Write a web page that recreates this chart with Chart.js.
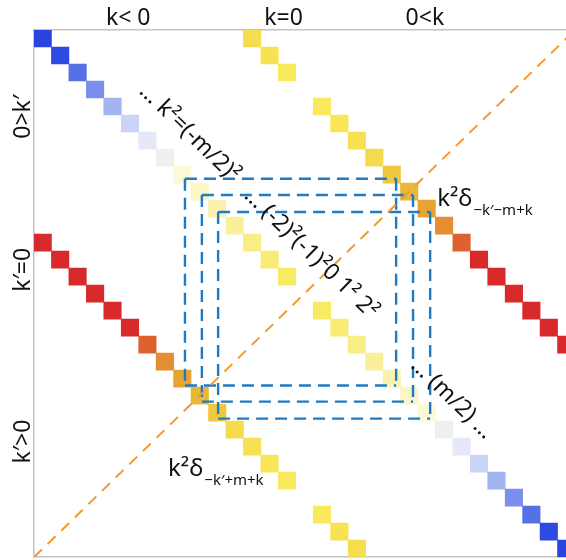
<!DOCTYPE html>
<html>
<head>
<meta charset="utf-8">
<script src="https://cdn.jsdelivr.net/npm/chart.js@4/dist/chart.umd.min.js"></script>
<style>
  html, body { margin: 0; padding: 0; background: #fff; overflow: hidden; }
  canvas { display: block; }
</style>
</head>
<body>
<canvas id="chart" width="576" height="560"></canvas>
<script>
// 31 x 31 grid: column = k (left to right), row = k' (top to bottom)
const gridSize = 31;

// Main diagonal k' = k, one value per column (null = empty cell)
const mainDiagonal = [-1.0, -0.9, -0.75, -0.6, -0.45, -0.3, -0.15, 0.0, 0.1, 0.15, 0.2, 0.25, 0.3, 0.34, 0.38, null,
                      0.38, 0.34, 0.3, 0.25, 0.2, 0.15, 0.1, 0.0, -0.15, -0.3, -0.45, -0.6, -0.75, -0.9, -1.0];

// Upper shifted diagonal: column = upperStart + j, row = j
const upperStart = 12;
const upperDiagonal = [0.47, 0.44, 0.4, null, 0.4, 0.42, 0.45, 0.48, 0.55, 0.6, 0.66, 0.74, 0.85, 1, 1, 1, 1, 1, 1];

// Lower shifted diagonal: column = j, row = lowerStart + j
const lowerStart = 12;
const lowerDiagonal = [1, 1, 1, 1, 1, 1, 0.85, 0.74, 0.66, 0.6, 0.55, 0.48, 0.45, 0.42, 0.4, null, 0.4, 0.44, 0.47];

// Axis tick labels (positions in grid units)
const topTickLabels = ['k< 0', 'k=0', '0<k'];
const topTickValues = [5.4, 14.3, 22.4];
const leftTickLabels = ['0>k\u2032', 'k\u2032=0', 'k\u2032>0'];
const leftTickValues = [5.1, 14.1, 24.2];

// Dashed boxes [left, top, right, bottom] in grid units
const boxes = [
  [8.65, 8.75, 20.75, 20.9],
  [9.62, 9.7, 21.72, 21.85],
  [10.55, 10.7, 22.7, 22.85]
];

// Anti-diagonal reference line
const antiDiagonal = [{x: 0, y: gridSize}, {x: gridSize, y: 0}];

// Annotations along the diagonals
const diagonalNotes = [
  {text: '\u2026 k\u00b2=(-m/2)\u00b2', col: 8.9, row: 6.05},
  {text: '\u2026 (-2)\u00b2(-1)\u00b20 1\u00b2 2\u00b2', col: 15.87, row: 13.15},
  {text: '\u2026 (m/2) \u2026', col: 23.95, row: 21.67}
];
const deltaNotes = [
  {main: 'k\u00b2\u03b4', sub: '\u2212k\u2032\u2212m+k', col: 23.1, row: 10.33},
  {main: 'k\u00b2\u03b4', sub: '\u2212k\u2032+m+k', col: 7.68, row: 26.25}
];

// Colour scale: blue (negative) -> grey-white -> yellow -> orange -> red
const colorStops = [
  [-1.00, '#2a44e0'], [-0.90, '#2e4ae2'], [-0.75, '#5670e6'], [-0.60, '#7a90ec'],
  [-0.45, '#a2b4f2'], [-0.30, '#cad4f6'], [-0.15, '#e4e8f8'], [0.00, '#eef0ee'],
  [0.10, '#fdf8d8'], [0.20, '#fbf2b0'], [0.30, '#f9ee86'], [0.40, '#f8ea5c'],
  [0.45, '#f7e052'], [0.50, '#f4d64a'], [0.55, '#efc840'], [0.60, '#eab838'],
  [0.66, '#e8a432'], [0.74, '#e68c32'], [0.85, '#de6230'], [1.00, '#d82a2a']
];
function hexToRgb(h) { return [1, 3, 5].map(i => parseInt(h.substr(i, 2), 16)); }
function colorFor(v) {
  if (v <= colorStops[0][0]) return colorStops[0][1];
  for (let i = 1; i < colorStops.length; i++) {
    const [v1, c1] = colorStops[i];
    if (v <= v1) {
      const [v0, c0] = colorStops[i - 1];
      const t = (v - v0) / (v1 - v0);
      const a = hexToRgb(c0), b = hexToRgb(c1);
      const m = a.map((x, k) => Math.round(x + (b[k] - x) * t));
      return `rgb(${m[0]},${m[1]},${m[2]})`;
    }
  }
  return colorStops[colorStops.length - 1][1];
}

// Turn a diagonal into floating bars (one cell per bar)
function cells(values, colStart, rowStart) {
  const data = [], colors = [];
  values.forEach((v, j) => {
    if (v === null) return;
    const c = colStart + j, r = rowStart + j;
    data.push({x: c + 0.5, y: [r, r + 1]});
    colors.push(colorFor(v));
  });
  return {data, colors};
}
function boxPath([l, t, r, b]) {
  return [
    {x: l, y: t}, {x: r, y: t}, {x: r, y: null},
    {x: r, y: t}, {x: r, y: b}, {x: r, y: null},
    {x: l, y: b}, {x: r, y: b}, {x: l, y: null},
    {x: l, y: t}, {x: l, y: b}
  ];
}

const FONT = '"Noto Sans", "Open Sans", sans-serif';
const mainCells = cells(mainDiagonal, 0, 0);
const upperCells = cells(upperDiagonal, upperStart, 0);
const lowerCells = cells(lowerDiagonal, 0, lowerStart);

const cellDataset = (c) => ({
  type: 'bar', data: c.data, backgroundColor: c.colors, borderWidth: 0,
  grouped: false, barPercentage: 1, categoryPercentage: 1, order: 3,
  xAxisID: 'x', yAxisID: 'y'
});

const datasets = [
  cellDataset(mainCells), cellDataset(upperCells), cellDataset(lowerCells),
  ...boxes.map(bx => ({
    type: 'line', data: boxPath(bx), borderColor: '#1f7bc4', borderWidth: 2.4,
    borderDash: [12, 7], borderCapStyle: 'butt', pointRadius: 0, fill: false,
    spanGaps: false, tension: 0, order: 2, xAxisID: 'x', yAxisID: 'y'
  })),
  {
    type: 'line', data: antiDiagonal, borderColor: '#f39a2e', borderWidth: 2,
    borderDash: [11, 8], pointRadius: 0, fill: false, tension: 0, order: 1,
    xAxisID: 'x', yAxisID: 'y'
  }
];

const notesPlugin = {
  id: 'notes',
  afterDatasetsDraw(chart) {
    const {ctx, scales: {x, y}} = chart;
    const angle = Math.atan2(y.getPixelForValue(1) - y.getPixelForValue(0),
                             x.getPixelForValue(1) - x.getPixelForValue(0));
    ctx.save();
    ctx.fillStyle = '#111';
    diagonalNotes.forEach(n => {
      ctx.save();
      ctx.translate(x.getPixelForValue(n.col), y.getPixelForValue(n.row));
      ctx.rotate(angle);
      ctx.font = `23px ${FONT}`;
      ctx.textAlign = 'center';
      ctx.textBaseline = 'middle';
      ctx.fillText(n.text, 0, 0);
      ctx.restore();
    });
    deltaNotes.forEach(n => {
      const px = x.getPixelForValue(n.col), py = y.getPixelForValue(n.row);
      ctx.textAlign = 'left';
      ctx.textBaseline = 'alphabetic';
      ctx.font = `24px ${FONT}`;
      ctx.fillText(n.main, px, py);
      const w = ctx.measureText(n.main).width;
      ctx.font = `15px ${FONT}`;
      ctx.fillText(n.sub, px + w + 1, py + 9);
    });
    ctx.restore();
  }
};

const borderStyle = {display: true, color: '#c4c4c4', width: 1.5};

new Chart(document.getElementById('chart'), {
  type: 'bar',
  data: {datasets},
  options: {
    responsive: false,
    animation: false,
    events: [],
    devicePixelRatio: 1,
    layout: {padding: {left: 0, top: 0, right: 1, bottom: 0}},
    plugins: {legend: {display: false}, tooltip: {enabled: false}},
    scales: {
      x: {
        type: 'linear', position: 'bottom', min: 0, max: gridSize, offset: false,
        ticks: {display: false, stepSize: 1},
        grid: {display: false, drawTicks: false, offset: false},
        border: borderStyle,
        afterFit(s) { s.height = 2; }
      },
      xTop: {
        type: 'linear', position: 'top', min: 0, max: gridSize, offset: false,
        afterBuildTicks(s) { s.ticks = topTickValues.map(v => ({value: v})); },
        ticks: {
          callback: (v, i) => topTickLabels[i], autoSkip: false, maxRotation: 0, minRotation: 0,
          padding: -2, color: '#111', font: {family: FONT, size: 23}
        },
        grid: {display: false, drawTicks: false, offset: false},
        border: borderStyle,
        afterFit(s) { s.height = 30; }
      },
      y: {
        type: 'linear', position: 'left', reverse: true, min: 0, max: gridSize, offset: false,
        afterBuildTicks(s) { s.ticks = leftTickValues.map(v => ({value: v})); },
        ticks: {
          callback: (v, i) => leftTickLabels[i], autoSkip: false, minRotation: 90, maxRotation: 90,
          crossAlign: 'center', padding: -11, color: '#111', font: {family: FONT, size: 23}
        },
        grid: {display: false, drawTicks: false},
        border: borderStyle,
        afterFit(s) { s.width = 34; }
      }
    }
  },
  plugins: [notesPlugin]
});
</script>
</body>
</html>
